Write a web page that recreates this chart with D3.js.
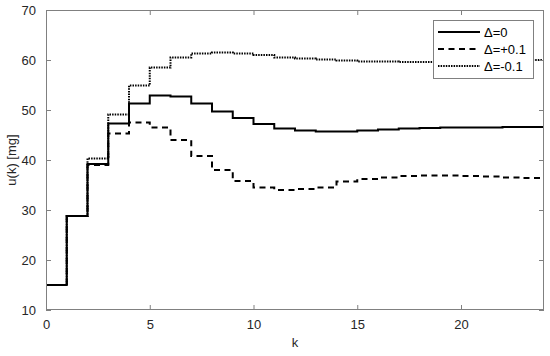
<!DOCTYPE html>
<html><head><meta charset="utf-8">
<script src="https://cdn.jsdelivr.net/npm/d3@7"></script>
<style>body{margin:0;background:#fff}</style>
</head><body><svg id="c" width="550" height="356"></svg>
<script>
const steps = d3.range(0, 24);
const uZero  = [15,28.8,39.2,47.3,51.3,52.9,52.7,51.3,49.7,48.4,47.2,46.3,45.9,45.7,45.7,45.9,46.1,46.3,46.4,46.5,46.5,46.5,46.6,46.6];
const uPlus  = [15,28.8,39.0,45.3,47.5,46.5,44.0,40.8,38.0,35.8,34.5,34.0,34.2,34.5,35.7,36.2,36.5,36.8,36.9,36.9,36.8,36.7,36.5,36.4];
const uMinus = [15,28.8,40.3,49.1,54.9,58.5,60.5,61.3,61.5,61.3,61.0,60.5,60.3,60.1,59.9,59.7,59.7,59.6,59.6,59.6,59.6,59.6,59.6,60.0];
const seriesNames = ["\u0394=0", "\u0394=+0.1", "\u0394=-0.1"];
const xTicks = [0,5,10,15,20];
const yTicks = [10,20,30,40,50,60,70];

const W = 550, H = 356;
const m = {l:46, r:6, t:10, b:46};
const svg = d3.select("#c");
const x = d3.scaleLinear().domain([0,24]).range([m.l, W - m.r]);
const y = d3.scaleLinear().domain([10,70]).range([H - m.b, m.t]);
const axisCol = "#808080", textCol = "#262626";
const font = "Liberation Sans, Arial, sans-serif";

const styles = [
  {data:uZero, dash:null},
  {data:uPlus, dash:"6,4.5"},
  {data:uMinus, dash:"1.5,1.1"}
];

const line = d3.line().x(d => x(d[0])).y(d => y(d[1])).curve(d3.curveStepAfter);
const g = svg.append("g");
styles.forEach(s => {
  const pts = steps.map(i => [i, s.data[i]]);
  pts.push([24, s.data[23]]);
  g.append("path").attr("d", line(pts)).attr("fill","none")
    .attr("stroke","#000").attr("stroke-width",2)
    .attr("stroke-dasharray", s.dash);
});

function styleAxis(sel, labels) {
  sel.select(".domain").remove();
  sel.selectAll(".tick line").attr("stroke", axisCol);
  sel.selectAll(".tick text").attr("fill", textCol).style("font-family", font).style("font-size","13px");
  if (!labels) sel.selectAll(".tick text").remove();
}
const tl = -5;
svg.append("g").attr("transform",`translate(0,${H-m.b})`)
  .call(d3.axisBottom(x).tickValues(xTicks).tickSize(tl).tickPadding(10).tickFormat(d3.format("d")))
  .call(s => styleAxis(s, true));
svg.append("g").attr("transform",`translate(0,${m.t})`)
  .call(d3.axisTop(x).tickValues(xTicks).tickSize(tl))
  .call(s => styleAxis(s, false));
svg.append("g").attr("transform",`translate(${m.l},0)`)
  .call(d3.axisLeft(y).tickValues(yTicks).tickSize(tl).tickPadding(10).tickFormat(d3.format("d")))
  .call(s => styleAxis(s, true));
svg.append("g").attr("transform",`translate(${W-m.r},0)`)
  .call(d3.axisRight(y).tickValues(yTicks).tickSize(tl))
  .call(s => styleAxis(s, false));

svg.append("rect").attr("x", m.l+0.5).attr("y", m.t+0.5)
  .attr("width", W-m.r-m.l-1).attr("height", H-m.b-m.t-1)
  .attr("fill","none").attr("stroke", axisCol).attr("stroke-width",1);

svg.append("text").attr("x", (m.l + W - m.r)/2).attr("y", 347)
  .attr("text-anchor","middle").attr("fill", textCol)
  .style("font-family", font).style("font-size","13px").text("k");
svg.append("text").attr("transform", `translate(16,${(m.t + H - m.b)/2}) rotate(-90)`)
  .attr("text-anchor","middle").attr("fill", textCol)
  .style("font-family", font).style("font-size","13px").text("u(k) [mg]");

// legend
const lg = svg.append("g");
lg.append("rect").attr("x",433.5).attr("y",20.5).attr("width",100).attr("height",58)
  .attr("fill","#fff").attr("stroke", axisCol).attr("stroke-width",1);
const rowY = [32, 49, 66];
styles.forEach((s,i) => {
  lg.append("line").attr("x1",438).attr("x2",480).attr("y1",rowY[i]).attr("y2",rowY[i])
    .attr("stroke","#000").attr("stroke-width",2).attr("stroke-dasharray", s.dash);
  lg.append("text").attr("x",484).attr("y",rowY[i]+4.5).attr("fill","#000")
    .style("font-family", font).style("font-size","13px").text(seriesNames[i]);
});
</script></body></html>
